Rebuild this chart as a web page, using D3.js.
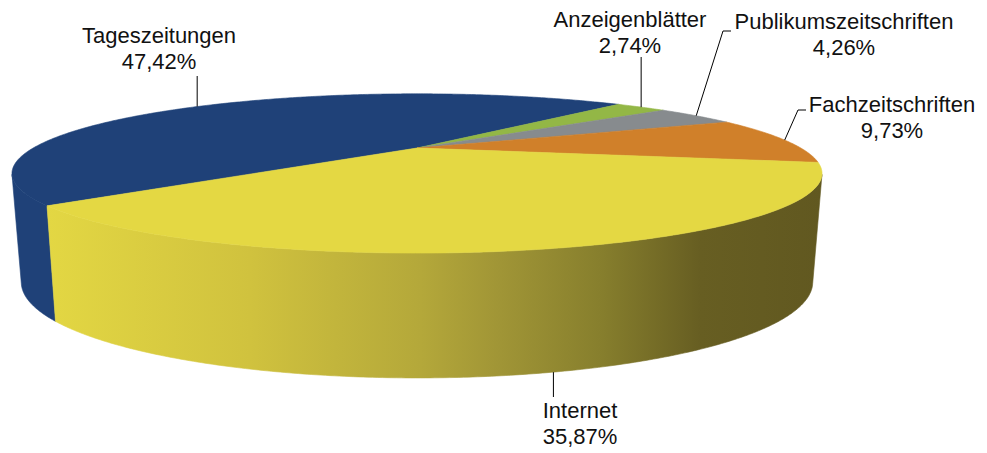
<!DOCTYPE html>
<html>
<head>
<meta charset="utf-8">
<script src="https://cdn.jsdelivr.net/npm/d3@7"></script>
<style>
  html, body { margin: 0; padding: 0; background: #fff; }
  svg { display: block; }
  text { font-family: "Liberation Sans", Arial, sans-serif; font-size: 22px; fill: #111; }
</style>
</head>
<body>
<svg id="chart" width="987" height="453"></svg>
<script>
// ---- data ----
const categories = ["Tageszeitungen", "Anzeigenblätter", "Publikumszeitschriften", "Fachzeitschriften", "Internet"];
const values = [47.42, 2.74, 4.26, 9.73, 35.87];
const valueLabels = ["47,42%", "2,74%", "4,26%", "9,73%", "35,87%"];

// ---- styles / layout ----
const topColors = ["#1f4178", "#93b746", "#878b8e", "#d0802a", "#e4d843"];
const sideColors = ["#1f4178", "#7f9e3c", "#6f7376", "#b06a22", "url(#internetSide)"];
// label layout: center x, baseline of first line, leader end
const labelLayout = [
  { x: 159, y: 43, leader: "vertical", end: 76 },
  { x: 630, y: 27, leader: "vertical", end: 57 },
  { x: 844, y: 29, leader: "elbow", ex: 723, ey: 31, hx: 731 },
  { x: 892, y: 112, leader: "elbow", ex: 798, ey: 110, hx: 806 },
  { x: 580, y: 418, leader: "down", end: 397 }
];

const svg = d3.select("#chart");
const W = 987, H = 453;

// projection of a tilted disc with perspective
const cx = 417, cy = 148, K = 383.8, SA = 0.1863, CA = 0.9825, L = 3.075, D0 = 103, SHRINK = 0.977;
const persp = t => L / (L - Math.sin(t) * CA);
const topPt = t => { const s = persp(t); return [cx + K * Math.cos(t) * s, cy + K * SA * Math.sin(t) * s]; };
const botPt = t => { const s = persp(t); const p = topPt(t); return [cx + (p[0] - cx) * SHRINK, p[1] + D0 * Math.sqrt(s)]; };

const rad = d => d * Math.PI / 180;
const start = rad(140);
const pie = d3.pie().sort(null).startAngle(start).endAngle(start + 2 * Math.PI);
const arcs = pie(values);

// gradient for the internet side
const defs = svg.append("defs");
const grad = defs.append("linearGradient").attr("id", "internetSide")
  .attr("gradientUnits", "userSpaceOnUse").attr("x1", 48).attr("x2", 822).attr("y1", 0).attr("y2", 0);
[[0, "#e3d743"], [0.261, "#d0c23e"], [0.481, "#b4a83a"], [0.584, "#a09536"], [0.713, "#877f2d"], [0.842, "#675e22"], [1, "#615820"]]
  .forEach(([o, c]) => grad.append("stop").attr("offset", o).attr("stop-color", c));

const line = d3.line();
const sample = (a0, a1, f) => {
  const n = Math.max(2, Math.ceil(Math.abs(a1 - a0) / rad(0.5)));
  return d3.range(n + 1).map(i => f(a0 + (a1 - a0) * i / n));
};

// visible side range: sin(t) > 1/(L) approx
const visLo = Math.asin(1 / (L * CA + 0.0)) , visHi = Math.PI - visLo;

const sideG = svg.append("g");
arcs.forEach((a, i) => {
  for (let k = 0; k <= 2; k++) {
    const lo = Math.max(a.startAngle, visLo + 2 * Math.PI * k);
    const hi = Math.min(a.endAngle, visHi + 2 * Math.PI * k);
    if (hi > lo) {
      const pts = sample(lo, hi, topPt).concat(sample(hi, lo, botPt));
      sideG.append("path").attr("d", line(pts) + "Z")
        .attr("fill", sideColors[i]).attr("stroke", sideColors[i]).attr("stroke-width", 0.6);
    }
  }
});

const topG = svg.append("g");
arcs.forEach((a, i) => {
  const pts = [[cx, cy]].concat(sample(a.startAngle, a.endAngle, topPt));
  topG.append("path").attr("d", line(pts) + "Z")
    .attr("fill", topColors[i]).attr("stroke", topColors[i]).attr("stroke-width", 0.6);
});

// labels and leaders
const labG = svg.append("g");
arcs.forEach((a, i) => {
  const mid = (a.startAngle + a.endAngle) / 2;
  const lay = labelLayout[i];
  let pts;
  if (lay.leader === "vertical") {
    const p = topPt(mid);
    pts = [p, [p[0], lay.end]];
  } else if (lay.leader === "elbow") {
    const p = topPt(mid);
    pts = [p, [lay.ex, lay.ey], [lay.hx, lay.ey]];
  } else {
    const p = botPt(mid);
    pts = [p, [p[0], lay.end]];
  }
  labG.append("path").attr("d", line(pts)).attr("fill", "none").attr("stroke", "#000").attr("stroke-width", 1);
  const t = labG.append("text").attr("text-anchor", "middle");
  t.append("tspan").attr("x", lay.x).attr("y", lay.y).text(categories[i]);
  t.append("tspan").attr("x", lay.x).attr("y", lay.y + 25.5).text(valueLabels[i]);
});
</script>
</body>
</html>
